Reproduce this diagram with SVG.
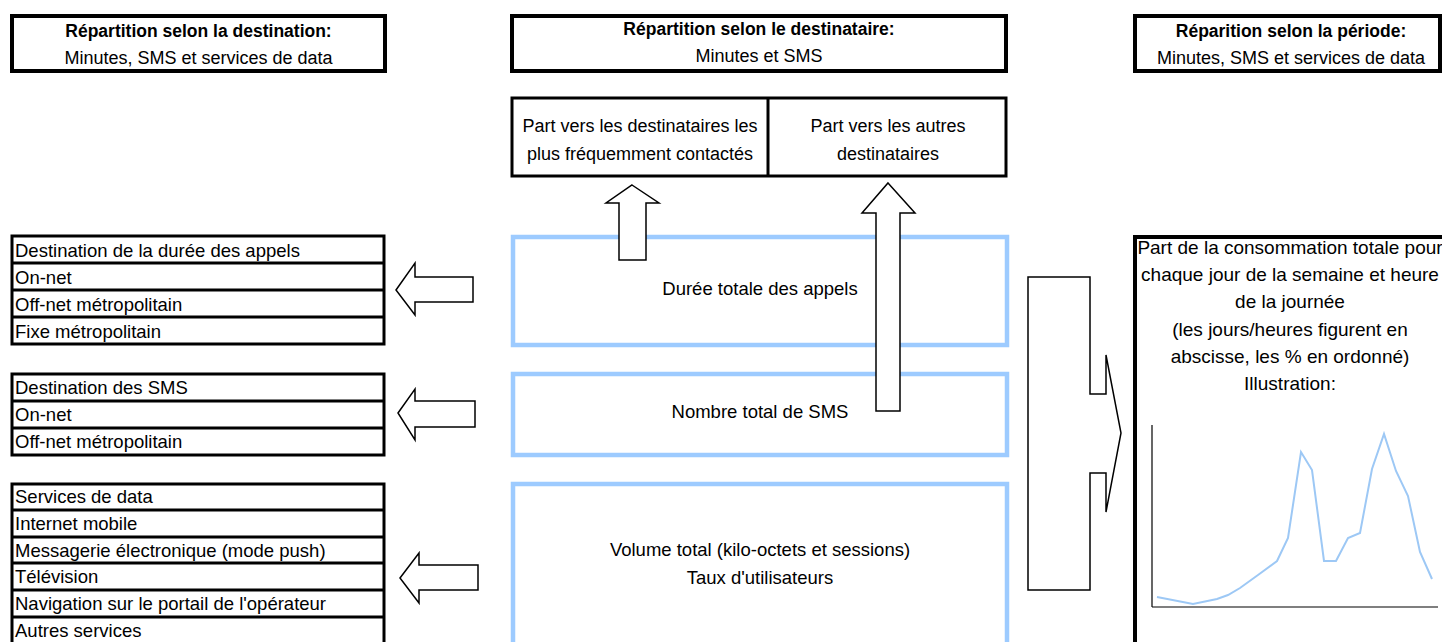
<svg xmlns="http://www.w3.org/2000/svg" width="1442" height="642" viewBox="0 0 1442 642">
<style>
text{font-family:"Liberation Sans",Arial,sans-serif;font-size:18.5px;fill:#000}
.b{font-weight:bold;font-size:17.5px}
.t{font-size:18px}
.p{font-size:19px}
.c{text-anchor:middle}
.box{fill:#fff;stroke:#000;stroke-width:4}
.lst{fill:#fff;stroke:#000;stroke-width:3}
.sep{stroke:#000;stroke-width:3}
.blue{fill:#fff;stroke:#9DCBFF;stroke-width:4.5}
.arr{fill:#fff;stroke:#000;stroke-width:1.5;stroke-linejoin:miter}
.chart{fill:none;stroke:#9DC8F5;stroke-width:2}
.axis{stroke:#000;stroke-width:1.2}
</style>
<rect width="1442" height="642" fill="#fff"/>

<g id="title-destination">
<rect class="box" x="12" y="16" width="373" height="55"/>
<text class="b c" x="198.5" y="37">Répartition selon la destination:</text>
<text class="t c" x="198.5" y="64">Minutes, SMS et services de data</text>
</g>

<g id="title-destinataire">
<rect class="box" x="512" y="16" width="494" height="55"/>
<text class="b c" x="759" y="35">Répartition selon le destinataire:</text>
<text class="t c" x="759" y="62">Minutes et SMS</text>
</g>

<g id="title-periode">
<rect class="box" x="1135" y="16" width="305" height="55"/>
<text class="b c" x="1291" y="37">Réparition selon la période:</text>
<text class="t c" x="1291" y="64">Minutes, SMS et services de data</text>
</g>

<g id="part-destinataires">
<rect class="lst" x="512" y="98" width="494" height="78"/>
<line class="sep" x1="768" y1="98" x2="768" y2="176"/>
<text class="t c" x="640" y="132">Part vers les destinataires les</text>
<text class="t c" x="640" y="160">plus fréquemment contactés</text>
<text class="t c" x="888" y="132">Part vers les autres</text>
<text class="t c" x="888" y="160">destinataires</text>
</g>

<g id="duree-appels">
<rect class="blue" x="513" y="237" width="494" height="108"/>
<text class="c" x="760" y="295">Durée totale des appels</text>
</g>

<g id="nombre-sms">
<rect class="blue" x="513" y="374" width="494" height="81"/>
<text class="c" x="760" y="418">Nombre total de SMS</text>
</g>

<g id="volume-data">
<rect class="blue" x="513" y="484" width="494" height="170"/>
<text class="c" x="760" y="556">Volume total (kilo-octets et sessions)</text>
<text class="c" x="760" y="584">Taux d'utilisateurs</text>
</g>

<g id="liste-appels">
<rect class="lst" x="12" y="236" width="372" height="108"/>
<line class="sep" x1="12" y1="263" x2="384" y2="263"/>
<line class="sep" x1="12" y1="290" x2="384" y2="290"/>
<line class="sep" x1="12" y1="317" x2="384" y2="317"/>
<text x="15" y="257">Destination de la durée des appels</text>
<text x="15" y="284">On-net</text>
<text x="15" y="311">Off-net métropolitain</text>
<text x="15" y="338">Fixe métropolitain</text>
</g>

<g id="liste-sms">
<rect class="lst" x="12" y="374" width="372" height="81"/>
<line class="sep" x1="12" y1="401" x2="384" y2="401"/>
<line class="sep" x1="12" y1="428" x2="384" y2="428"/>
<text x="15" y="394">Destination des SMS</text>
<text x="15" y="421">On-net</text>
<text x="15" y="448">Off-net métropolitain</text>
</g>

<g id="liste-data">
<rect class="lst" x="12" y="484" width="372" height="170"/>
<line class="sep" x1="12" y1="510" x2="384" y2="510"/>
<line class="sep" x1="12" y1="537" x2="384" y2="537"/>
<line class="sep" x1="12" y1="563" x2="384" y2="563"/>
<line class="sep" x1="12" y1="590" x2="384" y2="590"/>
<line class="sep" x1="12" y1="617" x2="384" y2="617"/>
<text x="15" y="503">Services de data</text>
<text x="15" y="530">Internet mobile</text>
<text x="15" y="557">Messagerie électronique (mode push)</text>
<text x="15" y="583">Télévision</text>
<text x="15" y="610">Navigation sur le portail de l'opérateur</text>
<text x="15" y="637">Autres services</text>
</g>

<g id="periode">
<rect class="box" x="1135" y="237" width="320" height="420"/>
<text class="p c" x="1290" y="254">Part de la consommation totale pour</text>
<text class="p c" x="1290" y="281">chaque jour de la semaine et heure</text>
<text class="p c" x="1290" y="308">de la journée</text>
<text class="p c" x="1290" y="336">(les jours/heures figurent en</text>
<text class="p c" x="1290" y="363">abscisse, les % en ordonné)</text>
<text class="p c" x="1290" y="390">Illustration:</text>
<line class="axis" x1="1152" y1="425" x2="1152" y2="607"/>
<line class="axis" x1="1152" y1="607" x2="1438" y2="607"/>
<polyline class="chart" points="1157,597 1193,604 1217,599 1228,595 1240,588 1258,575 1277,561 1288,538 1301,452 1312,470 1324,561 1336,561 1348,538 1360,533 1372,469 1384,434 1396,471 1408,496 1420,552 1432,579"/>
</g>

<g id="connectors">
<polygon class="arr" points="632,185 659,203 646,203 646,260 619,260 619,203 606,203"/>
<polygon class="arr" points="888,183 915,213 900,213 900,411 876,411 876,213 862,213"/>
<polygon class="arr" points="396,290 415,263 415,277 473,277 473,302 415,302 415,315"/>
<polygon class="arr" points="398,413 415,389 415,401 475,401 475,427 415,427 415,440"/>
<polygon class="arr" points="400,578 419,553 419,565 478,565 478,590 419,590 419,603"/>
<polygon class="arr" points="1028,277 1090,277 1090,394 1106,394 1106,355 1121,433 1106,512 1106,473 1090,473 1090,590 1028,590"/>
</g>
</svg>
